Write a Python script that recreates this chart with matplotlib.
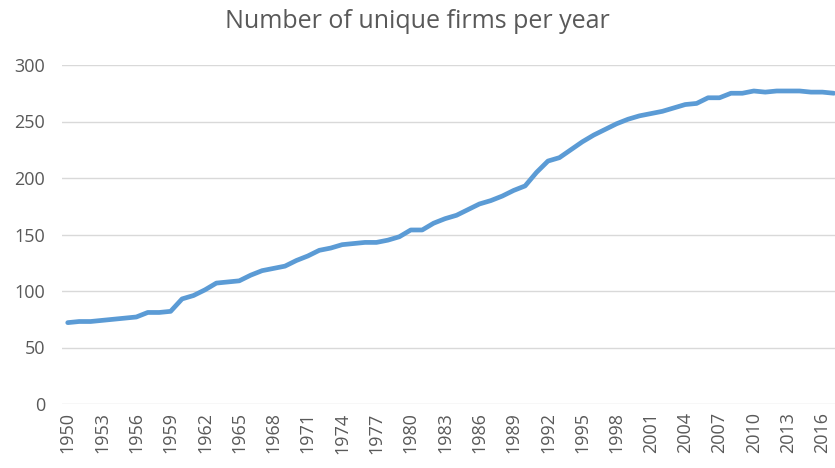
import matplotlib
matplotlib.use("Agg")
import matplotlib.pyplot as plt

years = list(range(1950, 2018))
firms = [72, 73, 73, 74, 75, 76, 77, 81, 81, 82,
         93, 96, 101, 107, 108, 109, 114, 118, 120, 122,
         127, 131, 136, 138, 141, 142, 143, 143, 145, 148,
         154, 154, 160, 164, 167, 172, 177, 180, 184, 189,
         193, 205, 215, 218, 225, 232, 238, 243, 248, 252,
         255, 257, 259, 262, 265, 266, 271, 271, 275, 275,
         277, 276, 277, 277, 277, 276, 276, 275]
tick_years = list(range(1950, 2018, 3))
y_ticks = [0, 50, 100, 150, 200, 250, 300]

plt.rcParams['font.family'] = ['Open Sans', 'DejaVu Sans']
fig = plt.figure(figsize=(8.35, 4.68), dpi=100)
ax = fig.add_axes([62/835, 1-404/468, 1-62/835, (404-65)/468])

ax.plot(years, firms, color='#5B9BD5', linewidth=3.4, solid_capstyle='round', solid_joinstyle='round', zorder=3)

ax.set_xlim(1949.5, 2017.1)
ax.set_ylim(0, 300)
ax.set_yticks(y_ticks)
ax.set_xticks(tick_years)
ax.set_xticklabels([str(y) for y in tick_years], rotation=90)
ax.grid(axis='y', color='#D9D9D9', linewidth=1.0)
ax.set_axisbelow(True)
for s in ax.spines.values():
    s.set_visible(False)
ax.tick_params(axis='both', length=0, colors='#595959', labelsize=13)
ax.tick_params(axis='y', pad=12)
ax.tick_params(axis='x', pad=6)

fig.text(417/835, 1-22/468, 'Number of unique firms per year', ha='center', va='center',
         fontsize=18, color='#595959')

fig.savefig('out.png', dpi=100, facecolor='white')
